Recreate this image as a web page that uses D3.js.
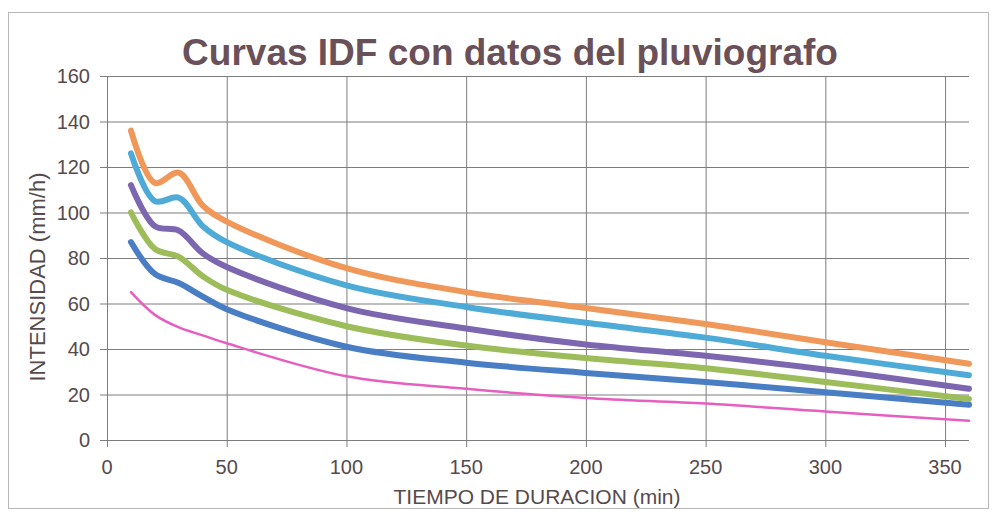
<!DOCTYPE html>
<html>
<head>
<meta charset="utf-8">
<script src="https://cdn.jsdelivr.net/npm/d3@7/dist/d3.min.js"></script>
<style>
  html, body { margin: 0; padding: 0; background: #fff; }
  svg { display: block; font-family: "Liberation Sans", Arial, sans-serif; }
</style>
</head>
<body>
<svg id="chart" width="995" height="514"></svg>
<script>
// duraciones (min) e intensidades (mm/h)
const durations = [10, 20, 30, 40, 50, 100, 150, 200, 250, 300, 360];
const seriesOrange = [136, 113, 117.5, 103, 96, 75.5, 65, 58, 51, 43, 33.5];
const seriesLightBlue = [126, 105, 106.5, 94, 87, 68, 58.5, 51.5, 45, 37, 28.5];
const seriesPurple = [112, 94, 92, 82, 76, 58, 49, 42, 37, 31, 22.5];
const seriesGreen = [100, 84, 80.5, 72, 66, 50, 41.5, 36, 31.5, 25.5, 18];
const seriesBlue = [87, 73, 69, 63, 57.5, 41, 34, 29.5, 25.5, 21, 15.5];
const seriesPink = [65, 55, 49.5, 46, 42.5, 28, 22.5, 18.5, 16, 12.5, 8.5];

const xTicks = [0, 50, 100, 150, 200, 250, 300, 350];
const yTicks = [0, 20, 40, 60, 80, 100, 120, 140, 160];

const series = [
  { values: seriesPink, color: "#e65fbf", width: 2.5 },
  { values: seriesBlue, color: "#4a7ec4", width: 6 },
  { values: seriesGreen, color: "#9dbd5a", width: 6 },
  { values: seriesPurple, color: "#7d66b0", width: 6 },
  { values: seriesLightBlue, color: "#4eaad6", width: 6 },
  { values: seriesOrange, color: "#f0985a", width: 6 }
];

const svg = d3.select("#chart");
const textColor = "#564a4d";

// marco
svg.append("rect")
  .attr("x", 8.5).attr("y", 12.5)
  .attr("width", 980).attr("height", 496)
  .attr("fill", "none")
  .attr("stroke", "#b8b8b8")
  .attr("stroke-width", 1);

const x = d3.scaleLinear().domain([0, 360]).range([107, 969]);
const y = d3.scaleLinear().domain([0, 160]).range([440, 76]);

// rejilla
const gridColor = "#7d7d7d";
svg.append("g")
  .attr("transform", "translate(0,440)")
  .call(d3.axisBottom(x).tickValues(xTicks).tickSize(-(440 - 76)).tickSizeOuter(0).tickFormat(""))
  .call((g) => g.select(".domain").remove())
  .call((g) => g.selectAll("line").attr("stroke", gridColor).attr("y1", 7));

svg.append("g")
  .attr("transform", "translate(107,0)")
  .call(d3.axisLeft(y).tickValues(yTicks).tickSize(-(969 - 107)).tickSizeOuter(0).tickFormat(""))
  .call((g) => g.select(".domain").remove())
  .call((g) => g.selectAll("line").attr("stroke", gridColor).attr("x1", -7));

// etiquetas de ejes
svg.append("g")
  .selectAll("text")
  .data(xTicks)
  .join("text")
  .attr("x", (d) => x(d))
  .attr("y", 474)
  .attr("text-anchor", "middle")
  .attr("fill", textColor)
  .attr("font-size", 20)
  .text((d) => d);

svg.append("g")
  .selectAll("text")
  .data(yTicks)
  .join("text")
  .attr("x", 90)
  .attr("y", (d) => y(d) + 7)
  .attr("text-anchor", "end")
  .attr("fill", textColor)
  .attr("font-size", 20)
  .text((d) => d);

// curvas
const line = d3.line()
  .x((d) => x(d[0]))
  .y((d) => y(d[1]))
  .curve(d3.curveCatmullRom.alpha(0.5));

svg.append("g")
  .selectAll("path")
  .data(series)
  .join("path")
  .attr("d", (s) => line(durations.map((t, i) => [t, s.values[i]])))
  .attr("fill", "none")
  .attr("stroke", (s) => s.color)
  .attr("stroke-width", (s) => s.width)
  .attr("stroke-linecap", "round")
  .attr("stroke-linejoin", "round");

// titulos
svg.append("text")
  .attr("x", 510)
  .attr("y", 65)
  .attr("text-anchor", "middle")
  .attr("fill", "#6a5058")
  .attr("font-size", 37)
  .attr("font-weight", "bold")
  .text("Curvas IDF con datos del pluviografo");

svg.append("text")
  .attr("x", 537)
  .attr("y", 504)
  .attr("text-anchor", "middle")
  .attr("fill", textColor)
  .attr("font-size", 21)
  .text("TIEMPO DE DURACION (min)");

svg.append("text")
  .attr("transform", "translate(45,277) rotate(-90)")
  .attr("text-anchor", "middle")
  .attr("fill", textColor)
  .attr("font-size", 22)
  .text("INTENSIDAD (mm/h)");
</script>
</body>
</html>
